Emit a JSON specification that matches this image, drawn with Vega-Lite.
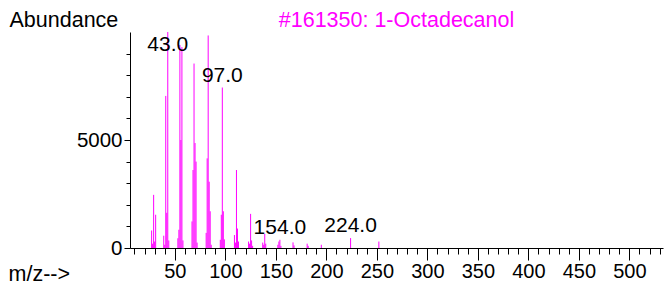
{
  "$schema": "https://vega.github.io/schema/vega-lite/v6.json",
  "width": 533,
  "height": 216,
  "autosize": {"type": "none"},
  "padding": {"left": 130, "top": 32, "right": 1, "bottom": 37},
  "background": "white",
  "config": {"view": {"stroke": null}, "font": "Liberation Sans"},
  "title": {
    "text": "#161350: 1-Octadecanol",
    "color": "#ff00ff",
    "fontSize": 21.5,
    "fontWeight": "normal",
    "font": "Liberation Sans",
    "anchor": "middle",
    "frame": "group",
    "baseline": "alphabetic",
    "offset": 0,
    "dy": 39
  },
  "data": {
    "values": [
      {"mz": 27, "abundance": 810},
      {"mz": 28, "abundance": 200},
      {"mz": 29, "abundance": 2460},
      {"mz": 30, "abundance": 300},
      {"mz": 31, "abundance": 1540},
      {"mz": 39, "abundance": 570},
      {"mz": 40, "abundance": 150},
      {"mz": 41, "abundance": 7040},
      {"mz": 42, "abundance": 1630},
      {"mz": 43, "abundance": 9999, "label": "43.0"},
      {"mz": 44, "abundance": 350},
      {"mz": 53, "abundance": 450},
      {"mz": 54, "abundance": 845},
      {"mz": 55, "abundance": 9400},
      {"mz": 56, "abundance": 5000},
      {"mz": 57, "abundance": 9300},
      {"mz": 58, "abundance": 350},
      {"mz": 67, "abundance": 1230},
      {"mz": 68, "abundance": 3610},
      {"mz": 69, "abundance": 8540},
      {"mz": 70, "abundance": 4860},
      {"mz": 71, "abundance": 4000},
      {"mz": 72, "abundance": 250},
      {"mz": 81, "abundance": 700},
      {"mz": 82, "abundance": 4150},
      {"mz": 83, "abundance": 9840},
      {"mz": 84, "abundance": 3070},
      {"mz": 85, "abundance": 1700},
      {"mz": 86, "abundance": 150},
      {"mz": 95, "abundance": 380},
      {"mz": 96, "abundance": 1540},
      {"mz": 97, "abundance": 7430, "label": "97.0"},
      {"mz": 98, "abundance": 1700},
      {"mz": 99, "abundance": 400},
      {"mz": 109, "abundance": 600},
      {"mz": 110, "abundance": 250},
      {"mz": 111, "abundance": 3610},
      {"mz": 112, "abundance": 900},
      {"mz": 113, "abundance": 300},
      {"mz": 123, "abundance": 300},
      {"mz": 124, "abundance": 200},
      {"mz": 125, "abundance": 1580},
      {"mz": 126, "abundance": 350},
      {"mz": 127, "abundance": 100},
      {"mz": 137, "abundance": 250},
      {"mz": 138, "abundance": 150},
      {"mz": 139, "abundance": 650},
      {"mz": 140, "abundance": 200},
      {"mz": 152, "abundance": 150},
      {"mz": 153, "abundance": 300},
      {"mz": 154, "abundance": 380, "label": "154.0"},
      {"mz": 155, "abundance": 100},
      {"mz": 167, "abundance": 260},
      {"mz": 168, "abundance": 120},
      {"mz": 181, "abundance": 200},
      {"mz": 182, "abundance": 100},
      {"mz": 195, "abundance": 150},
      {"mz": 224, "abundance": 460, "label": "224.0"},
      {"mz": 252, "abundance": 300}
    ]
  },
  "resolve": {"axis": {"x": "independent", "y": "independent"}},
  "layer": [
    {
      "mark": {"type": "rule", "color": "#ff00ff", "strokeWidth": 1},
      "encoding": {
        "x": {
          "field": "mz",
          "type": "quantitative",
          "scale": {"domain": [5.6, 533.3], "nice": false, "zero": false},
          "axis": {
            "orient": "bottom",
            "values": [50, 100, 150, 200, 250, 300, 350, 400, 450, 500],
            "tickSize": 12,
            "tickColor": "#000000",
            "domainColor": "#000000",
            "labelFontSize": 20,
            "labelColor": "#000000",
            "labelPadding": 1,
            "labelFont": "Liberation Sans",
            "grid": false,
            "title": "m/z-->",
            "titleFont": "Liberation Sans",
            "titleFontSize": 21.5,
            "titleFontWeight": "normal",
            "titleColor": "#000000",
            "titleAlign": "left",
            "titleBaseline": "alphabetic",
            "titleAnchor": "start",
            "titleX": -122,
            "titleY": 32
          }
        },
        "y": {
          "field": "abundance",
          "type": "quantitative",
          "scale": {"domain": [0, 10000], "nice": false},
          "axis": {
            "orient": "left",
            "values": [0, 5000],
            "format": "d",
            "tickSize": 6,
            "tickColor": "#000000",
            "domainColor": "#000000",
            "labelFontSize": 20.5,
            "labelColor": "#000000",
            "labelPadding": 2,
            "labelFont": "Liberation Sans",
            "grid": false,
            "title": "Abundance",
            "titleFont": "Liberation Sans",
            "titleFontSize": 21.5,
            "titleFontWeight": "normal",
            "titleColor": "#000000",
            "titleAngle": 0,
            "titleAlign": "left",
            "titleBaseline": "alphabetic",
            "titleX": -121,
            "titleY": -6
          }
        },
        "y2": {"datum": 0}
      }
    },
    {
      "mark": {"type": "rule", "opacity": 0},
      "encoding": {
        "x": {
          "field": "mz",
          "type": "quantitative",
          "axis": {
            "orient": "bottom",
            "values": [10, 20, 30, 40, 60, 70, 80, 90, 110, 120, 130, 140, 160, 170, 180, 190, 210, 220, 230, 240, 260, 270, 280, 290, 310, 320, 330, 340, 360, 370, 380, 390, 410, 420, 430, 440, 460, 470, 480, 490, 510, 520, 530],
            "tickSize": 6,
            "tickColor": "#000000",
            "labels": false,
            "domain": false,
            "grid": false,
            "title": null
          }
        },
        "y": {
          "field": "abundance",
          "type": "quantitative",
          "axis": {
            "orient": "left",
            "values": [1000, 2000, 3000, 4000, 6000, 7000, 8000, 9000],
            "tickSize": 4,
            "tickColor": "#000000",
            "labels": false,
            "domain": false,
            "grid": false,
            "title": null
          }
        },
        "y2": {"datum": 0}
      }
    },
    {
      "transform": [{"filter": "datum.label != null && datum.mz != 43"}],
      "mark": {"type": "text", "fontSize": 21, "font": "Liberation Sans", "color": "#000000", "baseline": "middle", "align": "center", "dy": -12},
      "encoding": {
        "x": {"field": "mz", "type": "quantitative", "axis": null},
        "y": {"field": "abundance", "type": "quantitative", "axis": null},
        "text": {"field": "label"}
      }
    },
    {
      "transform": [{"filter": "datum.mz == 43"}],
      "mark": {"type": "text", "fontSize": 21, "font": "Liberation Sans", "color": "#000000", "baseline": "middle", "align": "center", "dy": 13},
      "encoding": {
        "x": {"field": "mz", "type": "quantitative", "axis": null},
        "y": {"field": "abundance", "type": "quantitative", "axis": null},
        "text": {"field": "label"}
      }
    }
  ]
}
